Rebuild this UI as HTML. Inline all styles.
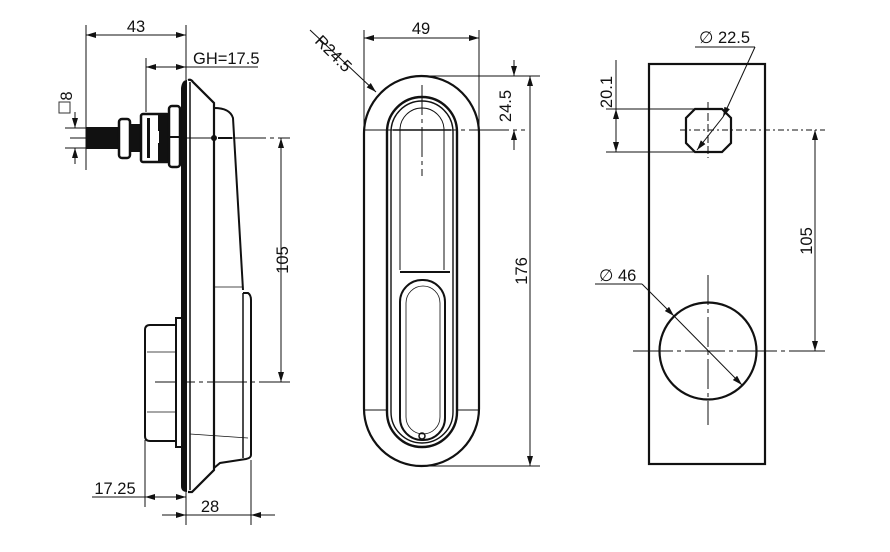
<!DOCTYPE html>
<html><head><meta charset="utf-8"><style>
html,body{margin:0;padding:0;background:#fff;}
svg{display:block;}
text{font-family:"Liberation Sans",Arial,sans-serif;font-size:16.5px;fill:#111;}
</style></head><body>
<svg width="890" height="552" viewBox="0 0 890 552" xmlns="http://www.w3.org/2000/svg">
<defs>
<marker id="a" viewBox="0 0 10 6" refX="10" refY="3" markerWidth="10" markerHeight="6" orient="auto-start-reverse" markerUnits="userSpaceOnUse"><path d="M0,0 L10,3 L0,6 z" fill="#111"/></marker>
</defs>
<g stroke="#111" fill="none">
<!-- ============ LEFT VIEW ============ -->
<g stroke-width="1">
<line x1="86" y1="25" x2="86" y2="170"/>
<line x1="186" y1="25" x2="186" y2="80"/>
<line x1="86" y1="35" x2="186" y2="35" marker-start="url(#a)" marker-end="url(#a)"/>
<line x1="146" y1="58" x2="146" y2="112"/>
<line x1="146" y1="67" x2="258" y2="67"/>
<line x1="146" y1="67" x2="186" y2="67" marker-start="url(#a)" marker-end="url(#a)"/>
<line x1="65" y1="128" x2="90" y2="128"/>
<line x1="65" y1="148" x2="90" y2="148"/>
<line x1="75" y1="112" x2="75" y2="128" marker-end="url(#a)"/>
<line x1="75" y1="164" x2="75" y2="148" marker-end="url(#a)"/>
<line x1="70" y1="138" x2="290" y2="138" stroke-dasharray="40,4,4,4"/>
<line x1="155" y1="382" x2="290" y2="382" stroke-dasharray="40,4,4,4"/>
<line x1="281" y1="138" x2="281" y2="382" marker-start="url(#a)" marker-end="url(#a)"/>
<line x1="145" y1="440" x2="145" y2="507"/>
<line x1="92" y1="497" x2="186" y2="497"/>
<line x1="145" y1="497" x2="186" y2="497" marker-start="url(#a)" marker-end="url(#a)"/>
<line x1="186" y1="492" x2="186" y2="525"/>
<line x1="251" y1="460" x2="251" y2="525"/>
<line x1="162" y1="515" x2="186" y2="515" marker-end="url(#a)"/>
<line x1="275" y1="515" x2="251" y2="515" marker-end="url(#a)"/>
<line x1="186" y1="515" x2="251" y2="515"/>
</g>
<!-- plate -->
<path d="M181,88 Q182,80 187,80 L187,492 Q181,492 181,486 Z" fill="#111" stroke="none"/>
<path d="M188,80 Q191,79 193,82 L214,103 L214,470 L192,492 L188,492" stroke-width="2.2"/>
<line x1="190" y1="82" x2="190" y2="490" stroke-width="1.5"/>
<!-- handle -->
<path d="M214,108 Q230,108 233,118 L243,290" stroke-width="2"/>
<line x1="214" y1="287" x2="243" y2="287" stroke-width="0.8"/>
<path d="M243,293 L248,293 Q251,295 251,300 L251,455 Q251,458 246,459 L220,463 L214,468" stroke-width="2"/>
<line x1="243" y1="293" x2="243" y2="458" stroke-width="1.5"/>
<line x1="190" y1="434" x2="248" y2="438" stroke-width="0.8"/>
<circle cx="214" cy="138" r="3" fill="#111" stroke="none"/>
<line x1="218" y1="138" x2="232" y2="138" stroke-width="2"/>
<!-- knob -->
<rect x="176" y="318" width="6" height="129" stroke-width="2" fill="#fff"/>
<path d="M176,325 L150,325 Q145,325 145,330 L145,436 Q145,441 150,441 L176,441" stroke-width="2"/>
<line x1="147" y1="352" x2="176" y2="352" stroke-width="0.8"/>
<line x1="147" y1="412" x2="176" y2="412" stroke-width="0.8"/>
<!-- stud -->
<rect x="86" y="127" width="34" height="22" fill="#111" stroke="none"/>
<rect x="119" y="119" width="11" height="39" rx="3" stroke-width="2.5" fill="#fff"/>
<rect x="130" y="124" width="10" height="28" fill="#111" stroke="none"/>
<rect x="141" y="114" width="28" height="48" rx="2" stroke-width="2.5" fill="#fff"/>
<rect x="147" y="118" width="3" height="40" fill="#111" stroke="none"/>
<rect x="158" y="114" width="11" height="48" fill="#111" stroke="none"/>
<rect x="153" y="131" width="6" height="12" fill="#fff" stroke="none"/>
<rect x="169" y="106" width="11" height="61" rx="3" stroke-width="2.5" fill="#fff"/>
<line x1="169" y1="137" x2="180" y2="137" stroke-width="2"/>

<!-- ============ MIDDLE VIEW ============ -->
<g stroke-width="1">
<line x1="364" y1="30" x2="364" y2="130"/>
<line x1="479" y1="30" x2="479" y2="130"/>
<line x1="364" y1="38" x2="479" y2="38" marker-start="url(#a)" marker-end="url(#a)"/>
<line x1="310" y1="30" x2="376" y2="92" marker-end="url(#a)"/>
<line x1="420" y1="76" x2="540" y2="76"/>
<line x1="365" y1="130" x2="525" y2="130" stroke-dasharray="40,4,4,4"/>
<line x1="420" y1="466" x2="540" y2="466"/>
<line x1="514" y1="60" x2="514" y2="76" marker-end="url(#a)"/>
<line x1="514" y1="150" x2="514" y2="130" marker-end="url(#a)"/>
<line x1="530" y1="76" x2="530" y2="466" marker-start="url(#a)" marker-end="url(#a)"/>
<line x1="422" y1="85" x2="422" y2="176" stroke-dasharray="30,4,4,4"/>
<line x1="365" y1="410" x2="386" y2="410"/>
<line x1="458" y1="410" x2="478" y2="410"/>
</g>
<rect x="364" y="76" width="115" height="390" rx="57.5" stroke-width="2.2"/>
<rect x="387" y="97" width="70" height="350" rx="35" stroke-width="2.4"/>
<rect x="391" y="101" width="62" height="342" rx="31" stroke-width="1.4"/>
<path d="M400,270 L400,130 A22,22 0 0 1 444,130 L444,270" stroke-width="1"/>
<line x1="393" y1="130" x2="451" y2="130" stroke-width="1.5"/>
<line x1="400" y1="272" x2="450" y2="272" stroke-width="2"/>
<rect x="400" y="280" width="45" height="160" rx="22" stroke-width="2"/>
<rect x="406" y="286" width="34" height="148" rx="17" stroke-width="0.8"/>
<circle cx="422" cy="436" r="3" stroke-width="1.5"/>

<!-- ============ RIGHT VIEW ============ -->
<rect x="649" y="64" width="116" height="400" stroke-width="2.2"/>
<path d="M695,109 L722,109 L731,118 L731,143 L722,152 L695,152 L686,143 L686,118 Z" stroke-width="2.2"/>
<circle cx="708" cy="351" r="48.5" stroke-width="2.2"/>
<g stroke-width="1">
<line x1="680" y1="130" x2="825" y2="130" stroke-dasharray="6,3,2,3"/>
<line x1="708" y1="102" x2="708" y2="158" stroke-dasharray="8,3"/>
<line x1="606" y1="109" x2="705" y2="109"/>
<line x1="606" y1="152" x2="705" y2="152"/>
<line x1="616" y1="109" x2="616" y2="130" marker-start="url(#a)"/>
<line x1="616" y1="130" x2="616" y2="152" marker-end="url(#a)"/>
<line x1="616" y1="60" x2="616" y2="109"/>
<line x1="815" y1="130" x2="815" y2="351" marker-start="url(#a)" marker-end="url(#a)"/>
<line x1="633" y1="351" x2="825" y2="351" stroke-dasharray="40,4,4,4"/>
<line x1="708" y1="275" x2="708" y2="425" stroke-dasharray="30,4,4,4"/>
<line x1="695" y1="47" x2="755" y2="47"/>
<line x1="755" y1="47" x2="723" y2="117" marker-end="url(#a)"/>
<line x1="723" y1="117" x2="697" y2="150" marker-end="url(#a)"/>
<line x1="595" y1="284" x2="642" y2="284"/>
<line x1="642" y1="284" x2="674" y2="316" marker-end="url(#a)"/>
<line x1="674" y1="316" x2="742" y2="385" marker-end="url(#a)"/>
</g>
</g>
<!-- texts -->
<text x="136" y="32" text-anchor="middle">43</text>
<text x="193" y="64">GH=17.5</text>
<text transform="translate(72,96) rotate(-90)" text-anchor="middle">8</text>
<rect x="59" y="102" width="11" height="11" fill="none" stroke="#333" stroke-width="1"/>
<text transform="translate(288,260) rotate(-90)" text-anchor="middle">105</text>
<text x="115" y="494" text-anchor="middle">17.25</text>
<text x="210" y="512" text-anchor="middle">28</text>
<text x="421" y="34" text-anchor="middle">49</text>
<text transform="translate(314,42) rotate(45)">R24.5</text>
<text transform="translate(511,106) rotate(-90)" text-anchor="middle">24.5</text>
<text transform="translate(527,271) rotate(-90)" text-anchor="middle">176</text>
<text transform="translate(612,92) rotate(-90)" text-anchor="middle">20.1</text>
<text transform="translate(812,241) rotate(-90)" text-anchor="middle">105</text>
<text x="699" y="43">∅ 22.5</text>
<text x="599" y="281">∅ 46</text>
</svg>
</body></html>
